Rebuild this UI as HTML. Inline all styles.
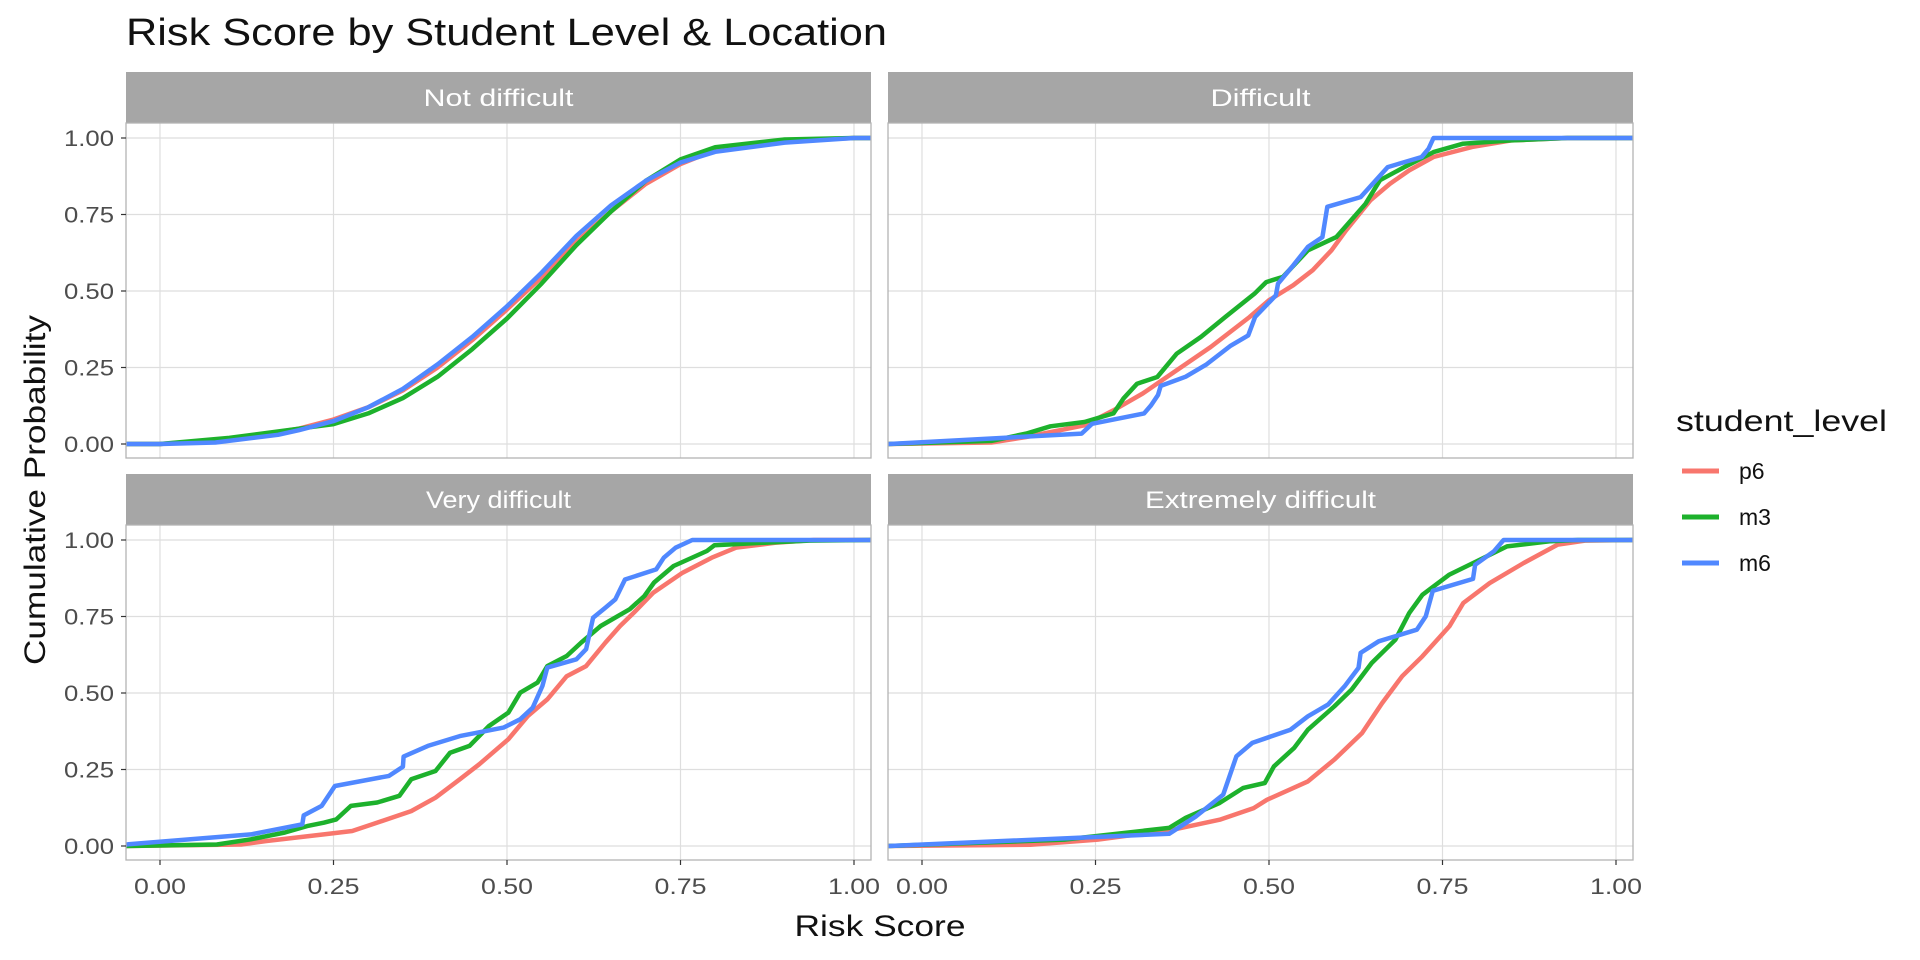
<!DOCTYPE html>
<html><head><meta charset="utf-8"><style>
html,body{margin:0;padding:0;background:#fff;}
svg{display:block;font-family:"Liberation Sans",sans-serif;}
</style></head><body>
<svg id="chart" width="1920" height="960" viewBox="0 0 1920 960" xmlns="http://www.w3.org/2000/svg">
<text x="126" y="45" font-size="38" fill="#111" textLength="761" lengthAdjust="spacingAndGlyphs">Risk Score by Student Level &amp; Location</text>
<text transform="translate(45,490) rotate(-90)" text-anchor="middle" font-size="30" fill="#111" textLength="350" lengthAdjust="spacingAndGlyphs">Cumulative Probability</text>
<text x="880" y="936" text-anchor="middle" font-size="30" fill="#111" textLength="171" lengthAdjust="spacingAndGlyphs">Risk Score</text>
<g id="panels"></g>
<g>
<text x="1676" y="431" font-size="30" fill="#111" textLength="211" lengthAdjust="spacingAndGlyphs">student_level</text>
<line x1="1682" x2="1719" y1="471" y2="471" stroke="#F8766D" stroke-width="5"/>
<text x="1739" y="479" font-size="23" fill="#111">p6</text>
<line x1="1682" x2="1719" y1="517" y2="517" stroke="#1DB12C" stroke-width="5"/>
<text x="1739" y="525" font-size="23" fill="#111">m3</text>
<line x1="1682" x2="1719" y1="563" y2="563" stroke="#5088FF" stroke-width="5"/>
<text x="1739" y="571" font-size="23" fill="#111">m6</text>
</g>
</svg>
<script>
const panelNames = ["Not difficult","Difficult","Very difficult","Extremely difficult"];
const seriesNames = ["p6","m3","m6"];
const seriesColors = ["#F8766D","#1DB12C","#5088FF"];
const xTicks = [0,0.25,0.5,0.75,1];
const xTickLabels = ["0.00","0.25","0.50","0.75","1.00"];
const yTicks = [0,0.25,0.5,0.75,1];
const yTickLabels = ["0.00","0.25","0.50","0.75","1.00"];

// Not difficult
const nd_p6_x = [-0.049,0,0.1,0.2,0.25,0.3,0.35,0.4,0.45,0.5,0.55,0.6,0.65,0.7,0.75,0.8,0.9,1,1.0245];
const nd_p6_y = [0,0,0.015,0.05,0.08,0.12,0.175,0.25,0.34,0.44,0.545,0.66,0.76,0.85,0.915,0.96,0.99,1,1];
const nd_m3_x = [-0.049,0,0.1,0.2,0.25,0.3,0.35,0.4,0.45,0.5,0.55,0.6,0.65,0.7,0.75,0.8,0.9,1,1.0245];
const nd_m3_y = [0,0,0.02,0.05,0.065,0.1,0.15,0.22,0.31,0.41,0.525,0.65,0.76,0.86,0.93,0.97,0.995,1,1];
const nd_m6_x = [-0.049,0,0.08,0.17,0.2,0.25,0.3,0.35,0.4,0.45,0.5,0.55,0.6,0.65,0.7,0.75,0.8,0.9,1,1.0245];
const nd_m6_y = [0,0,0.005,0.03,0.045,0.075,0.12,0.18,0.26,0.35,0.45,0.56,0.68,0.78,0.86,0.92,0.955,0.985,1,1];
// Difficult
const d_p6_x = [-0.049,0.1,0.15,0.234,0.276,0.318,0.36,0.416,0.472,0.5,0.535,0.563,0.59,0.611,0.646,0.674,0.702,0.737,0.793,0.849,0.93,1.0245];
const d_p6_y = [0,0.005,0.023,0.061,0.11,0.165,0.23,0.317,0.415,0.47,0.519,0.568,0.633,0.698,0.796,0.85,0.894,0.938,0.971,0.992,1,1];
const d_m3_x = [-0.049,0.1,0.15,0.185,0.234,0.276,0.29,0.31,0.339,0.367,0.402,0.437,0.479,0.496,0.52,0.556,0.597,0.639,0.66,0.695,0.737,0.779,0.849,0.93,1.0245];
const d_m3_y = [0,0.01,0.034,0.058,0.072,0.1,0.148,0.197,0.219,0.295,0.35,0.415,0.491,0.529,0.546,0.633,0.676,0.785,0.862,0.905,0.954,0.981,0.992,1,1];
const d_m6_x = [-0.049,0.23,0.245,0.32,0.33,0.34,0.344,0.38,0.41,0.444,0.47,0.48,0.51,0.513,0.535,0.556,0.577,0.584,0.632,0.671,0.72,0.73,0.737,1.0245];
const d_m6_y = [0,0.034,0.066,0.1,0.126,0.16,0.19,0.22,0.26,0.32,0.355,0.415,0.486,0.524,0.584,0.644,0.676,0.775,0.807,0.905,0.938,0.965,1,1];
// Very difficult
const v_p6_x = [-0.049,0.117,0.152,0.236,0.277,0.306,0.362,0.397,0.432,0.46,0.502,0.53,0.558,0.586,0.614,0.642,0.663,0.683,0.711,0.753,0.795,0.83,0.886,0.942,1.0245];
const v_p6_y = [0,0.005,0.016,0.038,0.049,0.071,0.114,0.158,0.218,0.267,0.349,0.425,0.479,0.555,0.588,0.665,0.719,0.763,0.828,0.893,0.942,0.975,0.991,1,1];
const v_m3_x = [-0.049,0.082,0.131,0.18,0.212,0.236,0.254,0.275,0.313,0.345,0.362,0.397,0.418,0.446,0.474,0.502,0.519,0.544,0.558,0.586,0.607,0.635,0.677,0.698,0.712,0.74,0.788,0.799,0.851,0.935,1.0245];
const v_m3_y = [0,0.005,0.022,0.044,0.065,0.076,0.087,0.131,0.142,0.164,0.218,0.245,0.305,0.327,0.392,0.436,0.501,0.534,0.588,0.621,0.665,0.719,0.774,0.817,0.861,0.915,0.964,0.983,0.989,0.998,1];
const v_m6_x = [-0.049,0.131,0.205,0.207,0.233,0.252,0.33,0.35,0.351,0.386,0.432,0.495,0.519,0.537,0.551,0.558,0.6,0.614,0.624,0.642,0.656,0.67,0.715,0.726,0.743,0.767,1.0245];
const v_m6_y = [0.005,0.038,0.071,0.1,0.131,0.196,0.229,0.259,0.292,0.327,0.359,0.387,0.414,0.452,0.523,0.583,0.61,0.643,0.746,0.779,0.806,0.871,0.904,0.942,0.975,1,1];
// Extremely difficult
const e_p6_x = [-0.049,0.156,0.253,0.361,0.429,0.478,0.497,0.556,0.594,0.634,0.663,0.692,0.721,0.76,0.78,0.818,0.867,0.916,0.955,1.0245];
const e_p6_y = [0,0.004,0.021,0.053,0.086,0.124,0.151,0.211,0.282,0.369,0.467,0.555,0.62,0.718,0.794,0.859,0.925,0.985,0.998,1];
const e_m3_x = [-0.049,0.205,0.356,0.38,0.429,0.463,0.494,0.507,0.536,0.556,0.594,0.619,0.648,0.682,0.702,0.721,0.76,0.799,0.843,0.906,0.945,1.0245];
const e_m3_y = [0,0.021,0.059,0.092,0.141,0.19,0.206,0.26,0.32,0.38,0.456,0.511,0.598,0.674,0.761,0.821,0.887,0.93,0.979,0.996,1,1];
const e_m6_x = [-0.049,0.356,0.395,0.434,0.453,0.476,0.531,0.556,0.585,0.609,0.629,0.632,0.658,0.713,0.726,0.736,0.794,0.797,0.824,0.838,1.0245];
const e_m6_y = [0,0.04,0.097,0.168,0.293,0.337,0.38,0.424,0.462,0.522,0.582,0.631,0.669,0.707,0.751,0.834,0.873,0.919,0.963,1,1];

const panelSeriesX = [[nd_p6_x,nd_m3_x,nd_m6_x],[d_p6_x,d_m3_x,d_m6_x],[v_p6_x,v_m3_x,v_m6_x],[e_p6_x,e_m3_x,e_m6_x]];
const panelSeriesY = [[nd_p6_y,nd_m3_y,nd_m6_y],[d_p6_y,d_m3_y,d_m6_y],[v_p6_y,v_m3_y,v_m6_y],[e_p6_y,e_m3_y,e_m6_y]];
const stripTextWidths = [150,100,145,231];

const NS = "http://www.w3.org/2000/svg";
const root = document.getElementById("panels");
function mk(tag, attrs, parent){const e=document.createElementNS(NS,tag);for(const k in attrs)e.setAttribute(k,attrs[k]);parent.appendChild(e);return e;}
const layout = [
  {left:126,top:123,stripTop:72},
  {left:888,top:123,stripTop:72},
  {left:126,top:525,stripTop:474},
  {left:888,top:525,stripTop:474}
];
const PW = 745, PH = 335;
function slug(s){return s.toLowerCase().replace(/\s+/g,'-');}
layout.forEach((L,pi)=>{
  const xS = v => L.left + 34 + v*694;
  const yS = v => L.top + 321 - v*306;
  const g = mk("g",{},root);
  
  
  const strip = mk("rect",{x:L.left,y:L.stripTop,width:PW,height:51,fill:"#A6A6A6"},g);
  
  
  const st = mk("text",{x:L.left+PW/2,y:L.stripTop+34,"text-anchor":"middle","font-size":"24",fill:"#fff",textLength:stripTextWidths[pi],lengthAdjust:"spacingAndGlyphs"},g);
  st.textContent = panelNames[pi];
  
  
  xTicks.forEach(v=>{
    const l=mk("line",{x1:xS(v),x2:xS(v),y1:L.top,y2:L.top+PH,stroke:"#DEDEDE","stroke-width":1.2},g);
    
    
  });
  yTicks.forEach(v=>{
    const l=mk("line",{x1:L.left,x2:L.left+PW,y1:yS(v),y2:yS(v),stroke:"#DEDEDE","stroke-width":1.2},g);
    
    
  });
  panelSeriesX[pi].forEach((xs,si)=>{
    const ys = panelSeriesY[pi][si];
    let d = "";
    xs.forEach((x,k)=>{d += (k?"L":"M") + xS(Math.max(-0.049,Math.min(1.0245,x))).toFixed(1) + "," + yS(ys[k]).toFixed(1);});
    const p = mk("path",{d:d,fill:"none",stroke:seriesColors[si],"stroke-width":4.5,"stroke-linejoin":"round"},g);
    
    
  });
  const b = mk("rect",{x:L.left,y:L.top,width:PW,height:PH,fill:"none",stroke:"#B3B3B3","stroke-width":1.3},g);
  
  
  if(pi%2===0){
    yTicks.forEach((v,i)=>{
      mk("line",{x1:L.left-5,x2:L.left,y1:yS(v),y2:yS(v),stroke:"#333","stroke-width":1.2},g);
      const t=mk("text",{x:L.left-12,y:yS(v)+8,"text-anchor":"end","font-size":"22",fill:"#4D4D4D",textLength:50,lengthAdjust:"spacingAndGlyphs"},g);
      t.textContent=yTickLabels[i];
      
      
    });
  }
  if(pi>=2){
    xTicks.forEach((v,i)=>{
      mk("line",{x1:xS(v),x2:xS(v),y1:L.top+PH,y2:L.top+PH+5,stroke:"#333","stroke-width":1.2},g);
      const t=mk("text",{x:xS(v),y:L.top+PH+34,"text-anchor":"middle","font-size":"22",fill:"#4D4D4D",textLength:52,lengthAdjust:"spacingAndGlyphs"},g);
      t.textContent=xTickLabels[i];
      
      
    });
  }
});
</script>
</body></html>
